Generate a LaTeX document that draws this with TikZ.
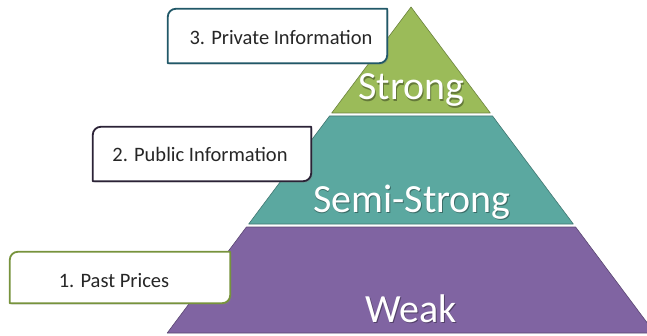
\documentclass[tikz,border=0pt]{standalone}
\usepackage{fontspec}
\setmainfont{Carlito}
\usetikzlibrary{shadows}
\definecolor{strongc}{HTML}{9BBB59}
\definecolor{semic}{HTML}{5BA8A0}
\definecolor{weakc}{HTML}{8064A2}
\definecolor{b3c}{HTML}{215868}
\definecolor{b2c}{HTML}{2B2236}
\definecolor{b1c}{HTML}{77933C}
\definecolor{txtc}{HTML}{262626}
\tikzset{
  layer/.style={fill=#1, draw=#1!70!black, line width=0.6pt, line join=round},
  layertext/.style={text=white, font=\fontsize{40}{44}\selectfont, anchor=base, inner sep=0pt},
  layershadow/.style={text=black, opacity=0.35, font=\fontsize{40}{44}\selectfont, anchor=base, inner sep=0pt},
  boxholder/.style={inner sep=0pt, minimum width=#1},
  boxline/.style={fill=white, line width=1.8pt, line join=round,
    drop shadow={shadow xshift=1.5pt, shadow yshift=-1.5pt, opacity=0.3}},
  boxtext/.style={text=txtc, font=\fontsize{20.5}{24}\selectfont, anchor=base, inner sep=0pt}
}
\newcommand\diagrect[2]{%
  \path[boxline, draw=#2] ([xshift=8pt]#1.north west) -- (#1.north east) -- ([yshift=8pt]#1.south east)
    arc[start angle=0, end angle=-90, radius=8pt] -- (#1.south west) -- ([yshift=-8pt]#1.north west)
    arc[start angle=180, end angle=90, radius=8pt] -- cycle;}
\begin{document}
\begin{tikzpicture}[x=1pt, y=1pt]
\useasboundingbox (0,0) rectangle (647,335);
\begin{scope}
\clip (0,0) rectangle (647,335);
% pyramid layers
\coordinate (apex) at (411,328);
\draw[layer=strongc] (apex) -- (490.3,222) -- (331.7,222) -- cycle;
\draw[layer=semic] (329.5,219) -- (492.5,219) -- (573.3,111) -- (248.7,111) -- cycle;
\draw[layer=weakc] (246.4,108) -- (575.6,108) -- (654.8,2) -- (167.2,2) -- cycle;
\end{scope}
% layer labels
\node[layershadow] (strongs) at (412.3,233.8) {Strong};
\node[layertext] (strong) at (411.5,235) {Strong};
\node[layershadow] (semis) at (412.8,121.8) {Semi-Strong};
\node[layertext] (semi) at (412,123) {Semi-Strong};
\node[layershadow] (weaks) at (411.8,11.8) {Weak};
\node[layertext] (weak) at (411,13) {Weak};
% boxes
\node[boxholder=219pt, minimum height=54pt] (b3) at (277.5,299) {};
\node[boxholder=218pt, minimum height=54pt] (b2) at (202,181) {};
\node[boxholder=220pt, minimum height=51pt] (b1) at (120,57.5) {};
\diagrect{b3}{b3c}
\diagrect{b2}{b2c}
\diagrect{b1}{b1c}
\node[boxtext] (t3) at (281,290) {3. Private Information};
\node[boxtext] (t2) at (200,173) {2. Public Information};
\node[boxtext] (t1) at (114,48) {1. Past Prices};
\end{tikzpicture}
\end{document}
